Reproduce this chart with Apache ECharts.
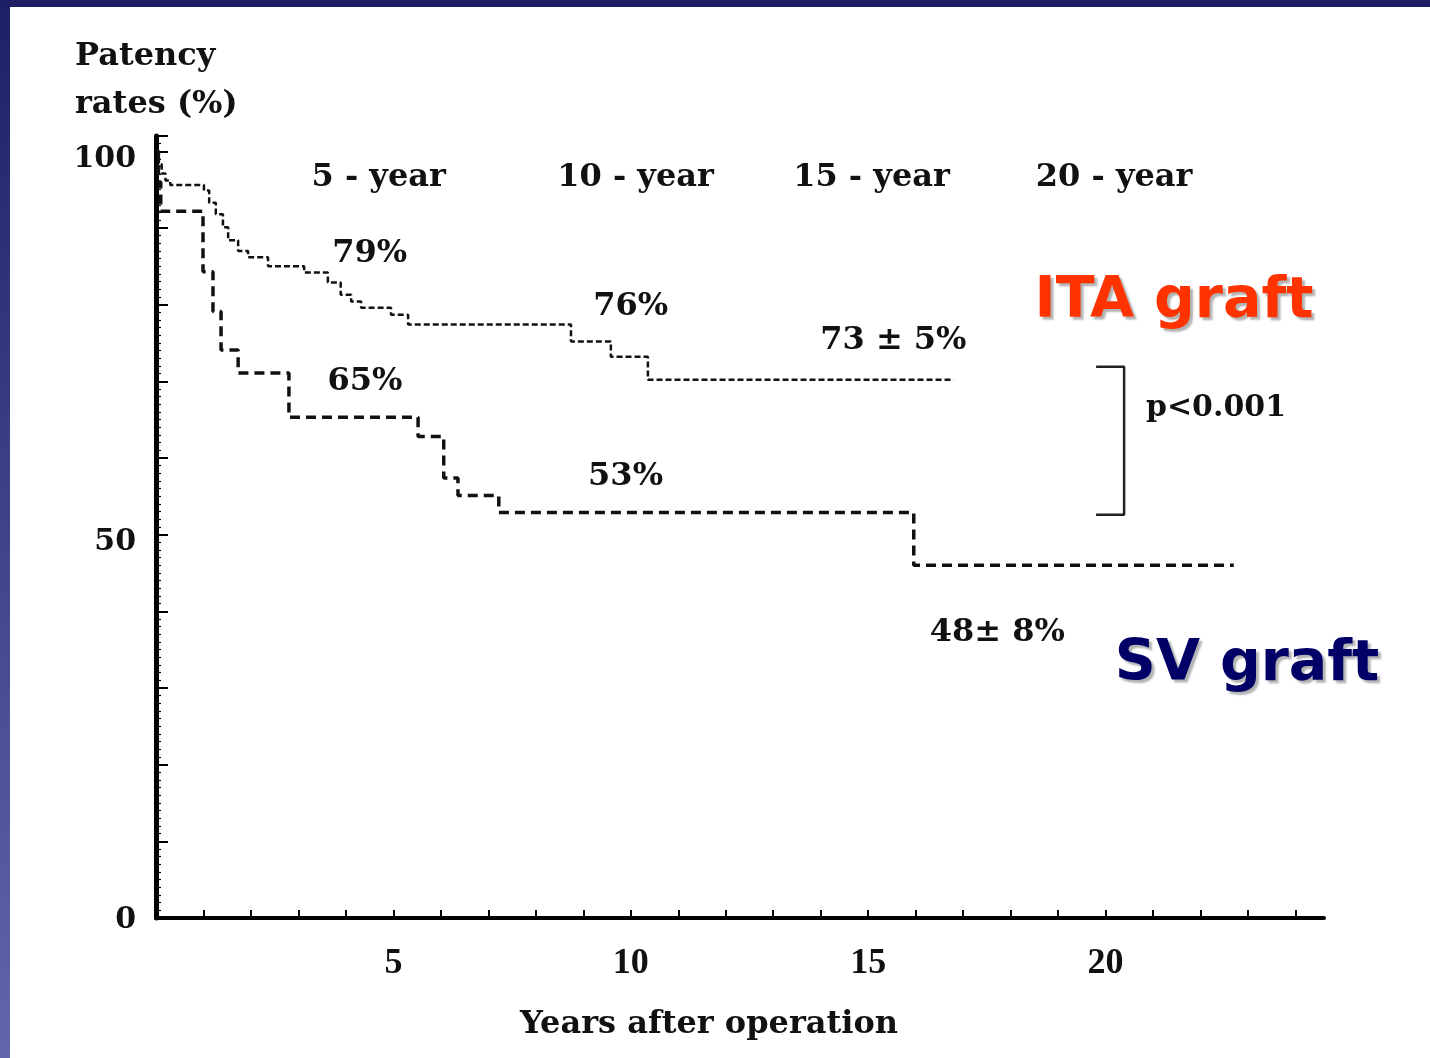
<!DOCTYPE html>
<html>
<head>
<meta charset="utf-8">
<title>Patency rates</title>
<script src="https://cdn.jsdelivr.net/npm/echarts@6/dist/echarts.min.js"></script>
<style>
  html, body { margin: 0; padding: 0; background: #fff; }
  #chart { width: 1430px; height: 1058px; }
</style>
</head>
<body>
<div id="chart"></div>
<script>
// Kaplan-Meier steps: each value holds from its year until the next step
var itaYears = [0, 0.06, 0.12, 0.2, 0.3, 1.01, 1.12, 1.26, 1.41, 1.52, 1.73, 1.94, 2.36, 3.12, 3.62, 3.89, 4.11, 4.32, 4.95, 5.31, 8.74, 9.58, 10.36, 16.8];
var itaPatency = [100, 98.3, 97.1, 96.2, 95.6, 94.9, 93.3, 91.8, 90.1, 88.4, 87.0, 86.2, 85.0, 84.2, 82.9, 81.3, 80.4, 79.6, 78.7, 77.4, 75.2, 73.2, 70.2, 70.2];
var svYears = [0, 0.05, 0.1, 0.99, 1.2, 1.37, 1.73, 2.8, 5.52, 6.06, 6.36, 7.22, 15.96, 22.7];
var svPatency = [100, 96, 92.2, 84.3, 79.1, 74.1, 71.1, 65.3, 62.8, 57.4, 55.1, 52.9, 46.0, 46.0];

// column headers over the curves
var headerText = ['5 - year', '10 - year', '15 - year', '20 - year'];
var headerYear = [4.69, 10.1, 15.07, 20.18];
var headerPct = 96.5;

// rates written next to the curves
var rateText = ['79%', '76%', '73 ± 5%', '65%', '53%', '48± 8%'];
var rateYear = [4.5, 10.0, 15.53, 4.4, 9.89, 17.72];
var ratePct = [86.7, 79.8, 75.3, 70.0, 57.5, 37.2];

// p-value bracket between the two curves
var bracketYears = [19.8, 20.39, 20.39, 19.8];
var bracketPct = [71.9, 71.9, 52.6, 52.6];

function zip(xs, ys) {
  var out = [];
  for (var i = 0; i < xs.length; i++) out.push([xs[i], ys[i]]);
  return out;
}

var serifBold = { fontFamily: 'DejaVu Serif', fontWeight: 'bold', color: '#111' };

var noteData = [];
headerText.forEach(function (t, i) {
  noteData.push({ name: t, value: [headerYear[i], headerPct] });
});
rateText.forEach(function (t, i) {
  noteData.push({ name: t, value: [rateYear[i], ratePct[i]] });
});
noteData.push({ name: 'p<0.001', value: [20.85, 66.5], label: { align: 'left', fontSize: 30 } });
noteData.push({
  name: 'ITA graft', value: [21.44, 80.3],
  label: {
    fontFamily: 'DejaVu Sans', fontWeight: 'bold', fontSize: 57, color: '#ff3300',
    textShadowColor: 'rgba(0,0,0,0.3)', textShadowOffsetX: 3, textShadowOffsetY: 3, textShadowBlur: 2
  }
});
noteData.push({
  name: 'SV graft', value: [22.98, 33.0],
  label: {
    fontFamily: 'DejaVu Sans', fontWeight: 'bold', fontSize: 57, color: '#000066',
    textShadowColor: 'rgba(0,0,0,0.3)', textShadowOffsetX: 3, textShadowOffsetY: 3, textShadowBlur: 2
  }
});

var chart = echarts.init(document.getElementById('chart'));
var option = {
  animation: false,
  backgroundColor: '#fff',
  title: [
    {
      text: 'Patency\nrates (%)',
      left: 75, top: 33, padding: 0,
      textStyle: { fontFamily: 'DejaVu Serif', fontWeight: 'bold', fontSize: 32, lineHeight: 48, color: '#111' }
    },
    {
      text: 'Years after operation',
      left: 520, top: 1005, padding: 0,
      textStyle: { fontFamily: 'DejaVu Serif', fontWeight: 'bold', fontSize: 32, lineHeight: 40, color: '#111' }
    }
  ],
  graphic: [
    { type: 'rect', z: 100, shape: { x: 0, y: 0, width: 1430, height: 7 }, style: { fill: '#1f1f66' } },
    {
      type: 'rect', z: 100, shape: { x: 0, y: 0, width: 10, height: 1058 },
      style: {
        fill: new echarts.graphic.LinearGradient(0, 0, 0, 1, [
          { offset: 0, color: '#1f1f66' },
          { offset: 1, color: '#6464aa' }
        ])
      }
    }
  ],
  grid: { left: 156, right: 106, top: 136, bottom: 140 },
  xAxis: {
    type: 'value',
    min: 0,
    max: 24.6,
    interval: 1,
    splitLine: { show: false },
    axisLine: { show: true, lineStyle: { color: '#000', width: 4 } },
    axisTick: { show: true, inside: true, length: 8, lineStyle: { color: '#000', width: 2 } },
    axisLabel: {
      showMaxLabel: false,
      margin: 28,
      fontFamily: 'Liberation Serif', fontWeight: 'bold', fontSize: 36, color: '#111',
      formatter: function (v) { return (v > 0 && v % 5 === 0) ? String(v) : ''; }
    }
  },
  yAxis: {
    type: 'value',
    min: 0,
    max: 102,
    interval: 10,
    splitLine: { show: false },
    axisLine: { show: true, lineStyle: { color: '#000', width: 5 } },
    axisTick: { show: true, inside: true, length: 12, lineStyle: { color: '#000', width: 2 } },
    minorTick: { show: true, splitNumber: 10, length: 5, lineStyle: { color: '#000', width: 1.2 } },
    minorSplitLine: { show: false },
    axisLabel: {
      margin: 20,
      formatter: function (v) {
        if (v === 100 || v === 50) return '{low|' + v + '}';
        if (v === 0) return '{base|0}';
        return '';
      },
      rich: {
        low: { fontFamily: 'DejaVu Serif', fontWeight: 'bold', fontSize: 30, color: '#111', padding: [16, 0, 0, 0] },
        base: { fontFamily: 'DejaVu Serif', fontWeight: 'bold', fontSize: 30, color: '#111', padding: [4, 0, 0, 0] }
      }
    }
  },
  series: [
    {
      name: 'ITA graft',
      type: 'line',
      step: 'end',
      showSymbol: false,
      data: zip(itaYears, itaPatency),
      lineStyle: { color: '#111', width: 2.5, type: [6, 3] }
    },
    {
      name: 'SV graft',
      type: 'line',
      step: 'end',
      showSymbol: false,
      data: zip(svYears, svPatency),
      lineStyle: { color: '#111', width: 3.5, type: [10, 6] }
    },
    {
      name: 'bracket',
      type: 'line',
      showSymbol: false,
      data: zip(bracketYears, bracketPct),
      lineStyle: { color: '#222', width: 2.5, type: 'solid' }
    },
    {
      name: 'notes',
      type: 'scatter',
      symbolSize: 0,
      silent: true,
      z: 10,
      itemStyle: { opacity: 1 },
      data: noteData,
      label: Object.assign({
        show: true,
        position: [0, 0],
        align: 'center',
        verticalAlign: 'middle',
        fontSize: 32,
        formatter: '{b}'
      }, serifBold)
    }
  ]
};
chart.setOption(option);
window.addEventListener('resize', chart.resize);
</script>
</body>
</html>
